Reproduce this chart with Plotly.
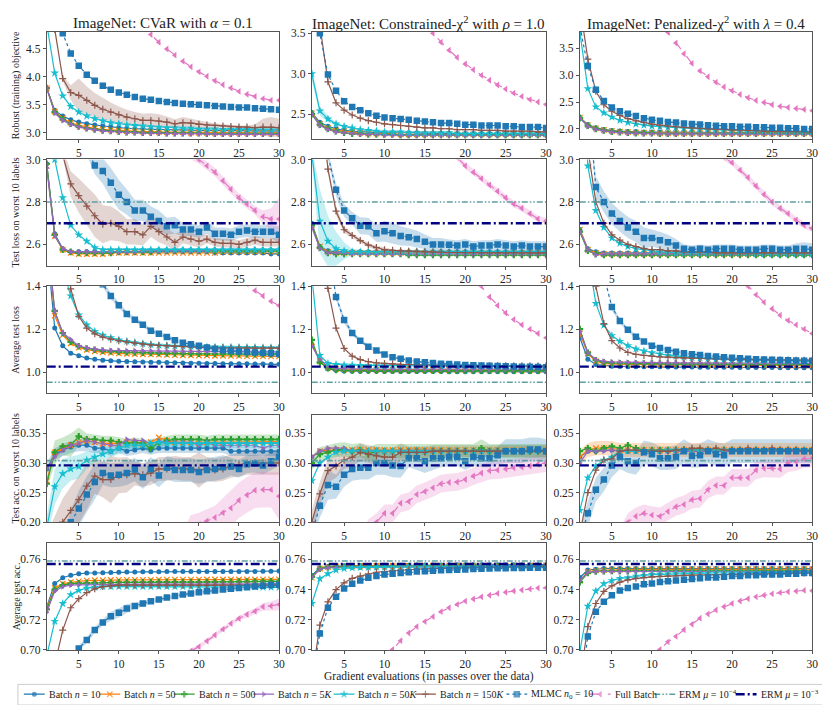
import plotly.graph_objects as go

x = list(range(1, 31))

# ---------------- Row 1: robust (training) objective ----------------
cvar_obj_b10 = [3.80, 3.40, 3.30, 3.23, 3.19, 3.16, 3.14, 3.12, 3.10, 3.09,
                3.08, 3.07, 3.07, 3.06, 3.06, 3.05, 3.05, 3.05, 3.04, 3.04,
                3.04, 3.04, 3.03, 3.03, 3.03, 3.03, 3.03, 3.03, 3.03, 3.03]
cvar_obj_b50 = [3.80, 3.38, 3.26, 3.18, 3.13, 3.10, 3.08, 3.06, 3.05, 3.04,
                3.03, 3.03, 3.02, 3.02, 3.01, 3.01, 3.01, 3.01, 3.00, 3.00,
                3.00, 3.00, 3.00, 3.00, 3.00, 3.00, 3.00, 3.00, 3.00, 3.00]
cvar_obj_b500 = [3.80, 3.37, 3.24, 3.16, 3.11, 3.08, 3.06, 3.04, 3.03, 3.02,
                 3.01, 3.01, 3.00, 3.00, 3.00, 2.99, 2.99, 2.99, 2.99, 2.99,
                 2.98, 2.98, 2.98, 2.98, 2.98, 2.98, 2.98, 2.98, 2.98, 2.98]
cvar_obj_b5k = [3.80, 3.35, 3.22, 3.15, 3.10, 3.07, 3.05, 3.03, 3.02, 3.01,
                3.00, 3.00, 2.99, 2.99, 2.99, 2.98, 2.98, 2.98, 2.98, 2.98,
                2.98, 2.97, 2.97, 2.97, 2.97, 2.97, 2.97, 2.97, 2.97, 2.97]
cvar_obj_b50k = [4.95, 4.07, 3.66, 3.47, 3.37, 3.30, 3.25, 3.21, 3.18, 3.16,
                 3.14, 3.13, 3.12, 3.11, 3.10, 3.09, 3.09, 3.08, 3.08, 3.07,
                 3.07, 3.07, 3.06, 3.06, 3.06, 3.06, 3.05, 3.05, 3.05, 3.05]
cvar_obj_b150k = [6.00, 4.85, 3.97, 3.72, 3.67, 3.58, 3.49, 3.42, 3.37, 3.32,
                  3.28, 3.25, 3.22, 3.22, 3.21, 3.19, 3.16, 3.18, 3.17, 3.15,
                  3.14, 3.13, 3.12, 3.11, 3.10, 3.10, 3.09, 3.10, 3.10, 3.09]
cvar_obj_mlmc = [6.50, 5.40, 4.78, 4.42, 4.20, 4.04, 3.93, 3.84, 3.77, 3.72,
                 3.68, 3.64, 3.61, 3.59, 3.57, 3.55, 3.53, 3.52, 3.51, 3.50,
                 3.49, 3.48, 3.47, 3.46, 3.45, 3.45, 3.44, 3.43, 3.42, 3.41]
cvar_obj_full = [9.80, 9.30, 8.80, 8.30, 7.80, 7.30, 6.85, 6.45, 6.05, 5.70,
                 5.40, 5.15, 4.93, 4.76, 4.62, 4.50, 4.39, 4.28, 4.18, 4.09,
                 4.01, 3.93, 3.86, 3.80, 3.74, 3.69, 3.65, 3.61, 3.58, 3.58]
cvar_obj_b150k_err = [0, 0, 0.05, 0.13, 0.30, 0.25, 0.22, 0.20, 0.17, 0.15,
                      0.13, 0.12, 0.12, 0.13, 0.12, 0.10, 0.08, 0.10, 0.08, 0.06,
                      0.05, 0.04, 0.03, 0.03, 0.03, 0.03, 0.06, 0.15, 0.18, 0.16]

chic_obj_b10 = [2.52, 2.40, 2.35, 2.32, 2.30, 2.29, 2.28, 2.28, 2.27, 2.27,
                2.27, 2.27, 2.27, 2.27, 2.26, 2.26, 2.26, 2.26, 2.26, 2.26,
                2.26, 2.26, 2.26, 2.26, 2.26, 2.26, 2.26, 2.26, 2.26, 2.26]
chic_obj_b50 = [2.51, 2.38, 2.33, 2.30, 2.29, 2.28, 2.27, 2.26, 2.26, 2.26,
                2.26, 2.25, 2.25, 2.25, 2.25, 2.25, 2.25, 2.25, 2.25, 2.25,
                2.25, 2.25, 2.25, 2.25, 2.25, 2.25, 2.25, 2.25, 2.25, 2.25]
chic_obj_b500 = [2.50, 2.37, 2.32, 2.29, 2.27, 2.26, 2.26, 2.25, 2.25, 2.25,
                 2.25, 2.24, 2.24, 2.24, 2.24, 2.24, 2.24, 2.24, 2.24, 2.24,
                 2.24, 2.24, 2.24, 2.24, 2.24, 2.24, 2.24, 2.24, 2.24, 2.24]
chic_obj_b5k = [2.50, 2.36, 2.31, 2.28, 2.27, 2.26, 2.25, 2.25, 2.25, 2.24,
                2.24, 2.24, 2.24, 2.24, 2.24, 2.24, 2.24, 2.24, 2.24, 2.24,
                2.24, 2.24, 2.24, 2.24, 2.24, 2.24, 2.24, 2.24, 2.24, 2.24]
chic_obj_b50k = [3.00, 2.54, 2.44, 2.38, 2.35, 2.33, 2.31, 2.30, 2.29, 2.28,
                 2.28, 2.28, 2.27, 2.27, 2.27, 2.27, 2.27, 2.27, 2.26, 2.26,
                 2.26, 2.26, 2.26, 2.26, 2.26, 2.26, 2.26, 2.26, 2.26, 2.26]
chic_obj_b150k = [4.50, 3.60, 2.90, 2.64, 2.55, 2.49, 2.45, 2.42, 2.40, 2.38,
                  2.37, 2.36, 2.35, 2.34, 2.33, 2.33, 2.32, 2.32, 2.31, 2.31,
                  2.31, 2.30, 2.30, 2.30, 2.29, 2.29, 2.29, 2.29, 2.28, 2.28]
chic_obj_mlmc = [4.20, 3.50, 2.99, 2.79, 2.66, 2.59, 2.55, 2.51, 2.48, 2.46,
                 2.45, 2.44, 2.43, 2.42, 2.41, 2.40, 2.39, 2.39, 2.38, 2.37,
                 2.37, 2.36, 2.36, 2.36, 2.35, 2.35, 2.34, 2.34, 2.34, 2.33]
chic_obj_full = [8.50, 8.00, 7.50, 7.00, 6.50, 6.10, 5.70, 5.35, 5.00, 4.70,
                 4.40, 4.15, 3.95, 3.77, 3.62, 3.50, 3.39, 3.29, 3.20, 3.12,
                 3.05, 2.98, 2.92, 2.86, 2.81, 2.76, 2.72, 2.68, 2.65, 2.62]
chic_obj_b50k_err = [0.08, 0.06, 0.04, 0.02, 0.01, 0.01, 0, 0, 0, 0,
                     0, 0, 0, 0, 0, 0, 0, 0, 0, 0,
                     0, 0, 0, 0, 0, 0, 0, 0, 0, 0]

chip_obj_b10 = [2.22, 2.08, 2.02, 1.99, 1.97, 1.96, 1.95, 1.95, 1.94, 1.94,
                1.94, 1.93, 1.93, 1.93, 1.93, 1.93, 1.93, 1.93, 1.93, 1.93,
                1.93, 1.93, 1.93, 1.93, 1.93, 1.93, 1.93, 1.93, 1.93, 1.93]
chip_obj_b50 = [2.21, 2.07, 2.01, 1.98, 1.96, 1.95, 1.94, 1.93, 1.93, 1.93,
                1.92, 1.92, 1.92, 1.92, 1.92, 1.92, 1.92, 1.92, 1.92, 1.92,
                1.92, 1.92, 1.92, 1.92, 1.92, 1.92, 1.92, 1.92, 1.92, 1.92]
chip_obj_b500 = [2.20, 2.06, 2.00, 1.97, 1.95, 1.94, 1.93, 1.92, 1.92, 1.92,
                 1.91, 1.91, 1.91, 1.91, 1.91, 1.91, 1.91, 1.91, 1.91, 1.91,
                 1.91, 1.91, 1.91, 1.91, 1.91, 1.91, 1.91, 1.91, 1.91, 1.91]
chip_obj_b5k = [2.20, 2.05, 1.99, 1.96, 1.94, 1.93, 1.92, 1.92, 1.91, 1.91,
                1.91, 1.90, 1.90, 1.90, 1.90, 1.90, 1.90, 1.90, 1.90, 1.90,
                1.90, 1.90, 1.90, 1.90, 1.90, 1.90, 1.90, 1.90, 1.90, 1.90]
chip_obj_b50k = [3.80, 2.75, 2.41, 2.30, 2.22, 2.16, 2.12, 2.09, 2.07, 2.05,
                 2.04, 2.03, 2.02, 2.01, 2.00, 1.99, 1.99, 1.98, 1.98, 1.97,
                 1.97, 1.96, 1.96, 1.96, 1.95, 1.95, 1.95, 1.94, 1.94, 1.94]
chip_obj_b150k = [4.30, 3.30, 2.70, 2.45, 2.33, 2.25, 2.19, 2.15, 2.12, 2.09,
                  2.07, 2.05, 2.04, 2.03, 2.02, 2.01, 2.00, 1.99, 1.99, 1.98,
                  1.98, 1.97, 1.97, 1.96, 1.96, 1.96, 1.95, 1.95, 1.95, 1.94]
chip_obj_mlmc = [3.90, 3.17, 2.73, 2.52, 2.40, 2.33, 2.28, 2.24, 2.20, 2.17,
                 2.15, 2.13, 2.12, 2.10, 2.09, 2.08, 2.07, 2.06, 2.05, 2.05,
                 2.04, 2.04, 2.03, 2.03, 2.02, 2.02, 2.01, 2.01, 2.00, 2.00]
chip_obj_full = [9.00, 8.40, 7.80, 7.20, 6.60, 6.10, 5.60, 5.10, 4.70, 4.35,
                 4.05, 3.80, 3.60, 3.40, 3.22, 3.08, 2.97, 2.87, 2.78, 2.71,
                 2.64, 2.58, 2.53, 2.49, 2.45, 2.42, 2.40, 2.38, 2.36, 2.34]

# ---------------- Row 2: test loss on worst 10 labels ----------------
cvar_worst_b10 = [2.98, 2.65, 2.58, 2.565, 2.565, 2.565, 2.565, 2.565, 2.565, 2.565,
                  2.565, 2.565, 2.565, 2.565, 2.565, 2.565, 2.565, 2.565, 2.565, 2.565,
                  2.565, 2.56, 2.56, 2.56, 2.56, 2.56, 2.56, 2.56, 2.555, 2.555]
cvar_worst_b50 = [2.97, 2.64, 2.575, 2.56, 2.555, 2.555, 2.555, 2.555, 2.56, 2.56,
                  2.56, 2.56, 2.56, 2.56, 2.56, 2.56, 2.56, 2.56, 2.56, 2.56,
                  2.56, 2.56, 2.565, 2.565, 2.565, 2.565, 2.565, 2.565, 2.565, 2.565]
cvar_worst_b500 = [2.98, 2.645, 2.575, 2.565, 2.56, 2.56, 2.56, 2.56, 2.56, 2.565,
                   2.565, 2.565, 2.565, 2.565, 2.57, 2.57, 2.57, 2.57, 2.57, 2.57,
                   2.57, 2.57, 2.57, 2.57, 2.57, 2.57, 2.57, 2.57, 2.57, 2.57]
cvar_worst_b5k = [2.96, 2.64, 2.58, 2.565, 2.565, 2.565, 2.565, 2.565, 2.565, 2.565,
                  2.565, 2.565, 2.57, 2.57, 2.57, 2.57, 2.57, 2.57, 2.57, 2.57,
                  2.57, 2.575, 2.575, 2.575, 2.575, 2.575, 2.575, 2.575, 2.575, 2.575]
cvar_worst_b50k = [3.50, 3.00, 2.82, 2.69, 2.645, 2.615, 2.585, 2.575, 2.575, 2.575,
                   2.575, 2.575, 2.575, 2.575, 2.575, 2.575, 2.575, 2.575, 2.575, 2.575,
                   2.575, 2.575, 2.575, 2.575, 2.575, 2.575, 2.575, 2.575, 2.575, 2.575]
cvar_worst_b150k = [3.60, 3.20, 3.02, 2.885, 2.83, 2.78, 2.735, 2.695, 2.70, 2.685,
                    2.66, 2.66, 2.645, 2.685, 2.66, 2.635, 2.61, 2.635, 2.625, 2.615,
                    2.625, 2.61, 2.605, 2.605, 2.60, 2.61, 2.62, 2.61, 2.61, 2.61]
cvar_worst_mlmc = [3.90, 3.70, 3.50, 3.30, 3.15, 3.05, 2.972, 2.946, 2.89, 2.834,
                   2.80, 2.76, 2.76, 2.73, 2.71, 2.685, 2.69, 2.67, 2.67, 2.66,
                   2.68, 2.65, 2.65, 2.645, 2.66, 2.665, 2.66, 2.66, 2.66, 2.645]
cvar_worst_full = [4.50, 4.35, 4.20, 4.05, 3.92, 3.80, 3.70, 3.60, 3.52, 3.44,
                   3.37, 3.30, 3.24, 3.19, 3.14, 3.10, 3.07, 3.04, 3.02, 3.00,
                   2.97, 2.94, 2.90, 2.86, 2.82, 2.79, 2.76, 2.73, 2.72, 2.72]
cvar_worst_mlmc_err = [0, 0, 0, 0, 0, 0.03, 0.04, 0.06, 0.07, 0.07,
                       0.06, 0.05, 0.05, 0.05, 0.05, 0.04, 0.04, 0.03, 0.03, 0.03,
                       0.03, 0.03, 0.03, 0.03, 0.03, 0.03, 0.03, 0.03, 0.03, 0.04]
cvar_worst_b150k_err = [0, 0, 0.03, 0.06, 0.08, 0.09, 0.10, 0.09, 0.08, 0.07,
                        0.06, 0.06, 0.05, 0.05, 0.05, 0.04, 0.04, 0.03, 0.03, 0.03,
                        0.02, 0.02, 0.02, 0.02, 0.02, 0.02, 0.02, 0.02, 0.02, 0.02]
cvar_worst_full_err = [0, 0, 0, 0, 0, 0, 0, 0, 0, 0,
                       0, 0, 0, 0, 0, 0, 0, 0, 0.02, 0.02,
                       0.02, 0.02, 0.02, 0.02, 0.02, 0.02, 0.02, 0.03, 0.05, 0.10]

chic_worst_b10 = [2.70, 2.59, 2.57, 2.565, 2.565, 2.565, 2.565, 2.565, 2.565, 2.565,
                  2.565, 2.565, 2.565, 2.565, 2.565, 2.565, 2.565, 2.565, 2.565, 2.565,
                  2.565, 2.565, 2.565, 2.565, 2.565, 2.565, 2.565, 2.565, 2.565, 2.565]
chic_worst_b50 = [2.69, 2.59, 2.565, 2.56, 2.56, 2.56, 2.56, 2.56, 2.56, 2.56,
                  2.56, 2.56, 2.56, 2.56, 2.56, 2.56, 2.56, 2.56, 2.56, 2.56,
                  2.56, 2.56, 2.56, 2.56, 2.56, 2.56, 2.56, 2.56, 2.56, 2.56]
chic_worst_b500 = [2.69, 2.585, 2.56, 2.555, 2.555, 2.555, 2.555, 2.555, 2.555, 2.555,
                   2.555, 2.555, 2.55, 2.55, 2.55, 2.55, 2.55, 2.55, 2.55, 2.55,
                   2.55, 2.55, 2.55, 2.55, 2.55, 2.55, 2.55, 2.55, 2.55, 2.55]
chic_worst_b5k = [2.68, 2.58, 2.56, 2.56, 2.56, 2.555, 2.555, 2.555, 2.555, 2.555,
                  2.555, 2.555, 2.555, 2.555, 2.555, 2.555, 2.555, 2.555, 2.555, 2.555,
                  2.555, 2.555, 2.555, 2.555, 2.555, 2.555, 2.555, 2.555, 2.555, 2.555]
chic_worst_b50k = [3.03, 2.71, 2.615, 2.58, 2.57, 2.565, 2.565, 2.565, 2.565, 2.565,
                   2.565, 2.565, 2.565, 2.565, 2.565, 2.565, 2.565, 2.565, 2.565, 2.565,
                   2.565, 2.565, 2.565, 2.565, 2.565, 2.565, 2.565, 2.565, 2.565, 2.565]
chic_worst_b150k = [3.70, 3.30, 2.955, 2.757, 2.669, 2.642, 2.618, 2.597, 2.585, 2.575,
                    2.572, 2.57, 2.568, 2.566, 2.565, 2.564, 2.563, 2.562, 2.562, 2.561,
                    2.561, 2.56, 2.56, 2.56, 2.56, 2.56, 2.56, 2.56, 2.56, 2.56]
chic_worst_mlmc = [3.60, 3.30, 3.02, 2.857, 2.76, 2.723, 2.688, 2.685, 2.652, 2.662,
                   2.652, 2.64, 2.634, 2.626, 2.612, 2.60, 2.60, 2.598, 2.595, 2.60,
                   2.59, 2.595, 2.595, 2.60, 2.595, 2.59, 2.595, 2.59, 2.59, 2.59]
chic_worst_full = [4.60, 4.45, 4.30, 4.15, 4.00, 3.88, 3.76, 3.65, 3.55, 3.46,
                   3.38, 3.31, 3.25, 3.19, 3.14, 3.10, 3.06, 3.03, 3.01, 2.97,
                   2.94, 2.91, 2.88, 2.85, 2.82, 2.79, 2.77, 2.745, 2.72, 2.71]
chic_worst_mlmc_err = [0, 0, 0.02, 0.03, 0.03, 0.03, 0.04, 0.04, 0.04, 0.05,
                       0.05, 0.045, 0.04, 0.04, 0.035, 0.03, 0.03, 0.025, 0.025, 0.025,
                       0.025, 0.025, 0.025, 0.025, 0.025, 0.025, 0.025, 0.025, 0.025, 0.025]
chic_worst_b150k_err = [0, 0, 0.02, 0.02, 0.015, 0.01, 0.01, 0.01, 0.01, 0.01,
                        0.005, 0.005, 0.005, 0.005, 0.005, 0.005, 0.005, 0.005, 0.005, 0.005,
                        0.005, 0.005, 0.005, 0.005, 0.005, 0.005, 0.005, 0.005, 0.005, 0.005]
chic_worst_b50k_err = [0.03, 0.15, 0.12, 0.08, 0.04, 0.015, 0.01, 0.005, 0.005, 0.005,
                       0.005, 0.005, 0.005, 0.005, 0.005, 0.005, 0.005, 0.005, 0.005, 0.005,
                       0.005, 0.005, 0.005, 0.005, 0.005, 0.005, 0.005, 0.005, 0.005, 0.005]
chic_worst_full_err = [0, 0, 0, 0, 0, 0, 0, 0, 0, 0,
                       0, 0, 0, 0, 0, 0, 0, 0, 0.015, 0.015,
                       0.015, 0.015, 0.015, 0.015, 0.015, 0.015, 0.015, 0.015, 0.015, 0.015]

chip_worst_b10 = [2.67, 2.58, 2.565, 2.56, 2.56, 2.56, 2.56, 2.56, 2.56, 2.56,
                  2.56, 2.56, 2.56, 2.56, 2.56, 2.56, 2.56, 2.56, 2.56, 2.56,
                  2.56, 2.56, 2.56, 2.56, 2.56, 2.56, 2.56, 2.56, 2.56, 2.56]
chip_worst_b50 = [2.67, 2.575, 2.56, 2.555, 2.555, 2.555, 2.555, 2.555, 2.555, 2.555,
                  2.555, 2.555, 2.555, 2.555, 2.555, 2.555, 2.555, 2.555, 2.555, 2.555,
                  2.555, 2.555, 2.555, 2.555, 2.555, 2.555, 2.555, 2.555, 2.555, 2.555]
chip_worst_b500 = [2.66, 2.57, 2.555, 2.55, 2.55, 2.55, 2.55, 2.55, 2.55, 2.55,
                   2.55, 2.55, 2.55, 2.55, 2.55, 2.55, 2.55, 2.55, 2.55, 2.55,
                   2.55, 2.55, 2.55, 2.55, 2.55, 2.55, 2.55, 2.55, 2.55, 2.55]
chip_worst_b5k = [2.66, 2.575, 2.55, 2.555, 2.555, 2.555, 2.555, 2.555, 2.555, 2.555,
                  2.555, 2.555, 2.555, 2.555, 2.555, 2.555, 2.555, 2.555, 2.555, 2.555,
                  2.555, 2.555, 2.555, 2.555, 2.555, 2.555, 2.555, 2.555, 2.555, 2.555]
chip_worst_b50k = [3.60, 2.97, 2.76, 2.68, 2.63, 2.605, 2.59, 2.58, 2.575, 2.57,
                   2.565, 2.565, 2.56, 2.56, 2.56, 2.56, 2.56, 2.56, 2.56, 2.56,
                   2.56, 2.56, 2.555, 2.555, 2.555, 2.555, 2.555, 2.555, 2.555, 2.555]
chip_worst_b150k = [3.80, 3.05, 2.80, 2.70, 2.645, 2.62, 2.60, 2.59, 2.58, 2.575,
                    2.575, 2.57, 2.57, 2.565, 2.565, 2.565, 2.565, 2.56, 2.56, 2.56,
                    2.56, 2.56, 2.56, 2.56, 2.56, 2.56, 2.56, 2.56, 2.56, 2.56]
chip_worst_mlmc = [3.70, 3.30, 2.87, 2.80, 2.745, 2.71, 2.68, 2.66, 2.63, 2.63,
                   2.62, 2.61, 2.595, 2.58, 2.575, 2.58, 2.575, 2.58, 2.58, 2.58,
                   2.575, 2.575, 2.575, 2.58, 2.58, 2.575, 2.575, 2.58, 2.58, 2.575]
chip_worst_full = [4.70, 4.55, 4.40, 4.25, 4.10, 3.97, 3.85, 3.73, 3.62, 3.52,
                   3.43, 3.35, 3.28, 3.21, 3.15, 3.10, 3.06, 3.03, 3.01, 2.985,
                   2.95, 2.915, 2.875, 2.835, 2.80, 2.77, 2.745, 2.715, 2.69, 2.675]
chip_worst_mlmc_err = [0, 0, 0.05, 0.05, 0.05, 0.05, 0.05, 0.05, 0.05, 0.04,
                       0.04, 0.035, 0.03, 0.02, 0.02, 0.02, 0.02, 0.02, 0.02, 0.02,
                       0.02, 0.02, 0.02, 0.02, 0.02, 0.02, 0.02, 0.025, 0.03, 0.03]
chip_worst_full_err = [0, 0, 0, 0, 0, 0, 0, 0, 0, 0,
                       0, 0, 0, 0, 0, 0, 0, 0, 0.015, 0.015,
                       0.015, 0.015, 0.015, 0.015, 0.015, 0.015, 0.015, 0.015, 0.015, 0.015]

# ---------------- Row 3: average test loss ----------------
cvar_loss_b10 = [1.60, 1.205, 1.122, 1.088, 1.076, 1.065, 1.059, 1.055, 1.052, 1.050,
                 1.049, 1.048, 1.047, 1.046, 1.045, 1.044, 1.043, 1.042, 1.041, 1.041,
                 1.040, 1.040, 1.039, 1.039, 1.038, 1.038, 1.037, 1.037, 1.036, 1.036]
cvar_loss_b50 = [1.65, 1.263, 1.172, 1.134, 1.114, 1.104, 1.097, 1.092, 1.089, 1.087,
                 1.085, 1.084, 1.083, 1.082, 1.081, 1.080, 1.079, 1.078, 1.078, 1.077,
                 1.077, 1.076, 1.076, 1.075, 1.075, 1.074, 1.074, 1.074, 1.073, 1.073]
cvar_loss_b500 = [1.66, 1.285, 1.182, 1.140, 1.120, 1.110, 1.104, 1.099, 1.096, 1.094,
                  1.092, 1.091, 1.090, 1.089, 1.088, 1.087, 1.087, 1.086, 1.086, 1.085,
                  1.085, 1.084, 1.084, 1.084, 1.083, 1.083, 1.083, 1.083, 1.083, 1.083]
cvar_loss_b5k = [1.66, 1.282, 1.183, 1.152, 1.122, 1.112, 1.106, 1.103, 1.101, 1.100,
                 1.099, 1.099, 1.098, 1.098, 1.097, 1.097, 1.097, 1.096, 1.096, 1.096,
                 1.096, 1.095, 1.095, 1.095, 1.095, 1.095, 1.095, 1.094, 1.094, 1.094]
cvar_loss_b50k = [2.00, 1.70, 1.48, 1.355, 1.266, 1.220, 1.190, 1.172, 1.160, 1.150,
                  1.143, 1.137, 1.132, 1.128, 1.125, 1.123, 1.121, 1.120, 1.119, 1.118,
                  1.117, 1.117, 1.116, 1.116, 1.115, 1.115, 1.115, 1.114, 1.114, 1.114]
cvar_loss_b150k = [2.20, 1.90, 1.60, 1.388, 1.260, 1.205, 1.178, 1.163, 1.153, 1.146,
                   1.140, 1.135, 1.130, 1.127, 1.124, 1.122, 1.120, 1.118, 1.117, 1.115,
                   1.114, 1.113, 1.113, 1.112, 1.112, 1.111, 1.111, 1.111, 1.111, 1.111]
cvar_loss_mlmc = [3.50, 2.90, 2.40, 2.05, 1.80, 1.62, 1.50, 1.41, 1.355, 1.312,
                  1.271, 1.244, 1.221, 1.193, 1.178, 1.163, 1.148, 1.137, 1.129, 1.122,
                  1.114, 1.107, 1.103, 1.099, 1.096, 1.093, 1.091, 1.090, 1.087, 1.084]
cvar_loss_full = [5.50, 5.20, 4.90, 4.60, 4.30, 4.05, 3.80, 3.55, 3.33, 3.12,
                  2.93, 2.75, 2.58, 2.43, 2.29, 2.16, 2.04, 1.93, 1.83, 1.74,
                  1.66, 1.59, 1.53, 1.48, 1.44, 1.41, 1.38, 1.355, 1.33, 1.31]
cvar_loss_mlmc_err = [0, 0, 0, 0, 0, 0, 0, 0.015, 0.015, 0.015,
                      0.012, 0.012, 0.012, 0.01, 0.01, 0.01, 0.01, 0.008, 0.008, 0.008,
                      0.008, 0.008, 0.008, 0.008, 0.008, 0.008, 0.008, 0.008, 0.008, 0.008]

chic_loss_b10 = [1.13, 1.05, 1.015, 1.008, 1.005, 1.004, 1.003, 1.003, 1.003, 1.002,
                 1.002, 1.002, 1.002, 1.002, 1.002, 1.002, 1.002, 1.001, 1.001, 1.001,
                 1.001, 1.001, 1.001, 1.001, 1.001, 1.001, 1.001, 1.001, 1.001, 1.001]
chic_loss_b50 = [1.14, 1.05, 1.02, 1.015, 1.013, 1.012, 1.012, 1.012, 1.011, 1.011,
                 1.011, 1.011, 1.011, 1.011, 1.011, 1.010, 1.010, 1.010, 1.010, 1.010,
                 1.010, 1.010, 1.010, 1.010, 1.010, 1.010, 1.010, 1.010, 1.010, 1.010]
chic_loss_b500 = [1.15, 1.045, 1.018, 1.010, 1.008, 1.007, 1.007, 1.007, 1.006, 1.006,
                  1.006, 1.006, 1.006, 1.006, 1.006, 1.006, 1.006, 1.006, 1.006, 1.006,
                  1.006, 1.006, 1.006, 1.006, 1.006, 1.006, 1.006, 1.006, 1.006, 1.006]
chic_loss_b5k = [1.12, 1.06, 1.025, 1.018, 1.016, 1.015, 1.015, 1.015, 1.014, 1.014,
                 1.014, 1.014, 1.014, 1.014, 1.014, 1.014, 1.014, 1.014, 1.014, 1.014,
                 1.014, 1.014, 1.014, 1.014, 1.014, 1.014, 1.014, 1.014, 1.014, 1.014]
chic_loss_b50k = [1.45, 1.077, 1.040, 1.035, 1.033, 1.032, 1.031, 1.031, 1.030, 1.030,
                  1.030, 1.030, 1.029, 1.029, 1.029, 1.029, 1.028, 1.028, 1.028, 1.028,
                  1.027, 1.027, 1.027, 1.027, 1.026, 1.026, 1.026, 1.026, 1.025, 1.025]
chic_loss_b150k = [2.00, 1.50, 1.39, 1.205, 1.110, 1.074, 1.058, 1.048, 1.043, 1.040,
                   1.038, 1.036, 1.035, 1.034, 1.033, 1.032, 1.031, 1.031, 1.030, 1.030,
                   1.030, 1.029, 1.029, 1.029, 1.029, 1.028, 1.028, 1.028, 1.028, 1.028]
chic_loss_mlmc = [2.60, 2.00, 1.60, 1.35, 1.243, 1.182, 1.146, 1.118, 1.100, 1.082,
                  1.069, 1.062, 1.054, 1.049, 1.045, 1.042, 1.039, 1.037, 1.035, 1.033,
                  1.031, 1.030, 1.029, 1.028, 1.027, 1.026, 1.025, 1.024, 1.023, 1.022]
chic_loss_full = [5.00, 4.70, 4.40, 4.10, 3.80, 3.55, 3.30, 3.05, 2.85, 2.65,
                  2.47, 2.30, 2.15, 2.02, 1.90, 1.80, 1.70, 1.62, 1.54, 1.48,
                  1.44, 1.40, 1.35, 1.31, 1.275, 1.245, 1.22, 1.20, 1.18, 1.16]
chic_loss_mlmc_err = [0, 0, 0, 0.015, 0.015, 0.012, 0.01, 0.01, 0.008, 0.008,
                      0.006, 0.006, 0.006, 0.005, 0.005, 0.005, 0.005, 0.005, 0.005, 0.005,
                      0.005, 0.005, 0.005, 0.005, 0.005, 0.005, 0.005, 0.005, 0.005, 0.005]

chip_loss_b10 = [1.16, 1.06, 1.035, 1.030, 1.027, 1.026, 1.025, 1.025, 1.024, 1.024,
                 1.024, 1.023, 1.023, 1.023, 1.023, 1.022, 1.022, 1.022, 1.022, 1.022,
                 1.021, 1.021, 1.021, 1.021, 1.021, 1.020, 1.020, 1.020, 1.020, 1.020]
chip_loss_b50 = [1.18, 1.085, 1.050, 1.040, 1.037, 1.036, 1.035, 1.035, 1.034, 1.034,
                 1.034, 1.033, 1.033, 1.033, 1.033, 1.032, 1.032, 1.032, 1.032, 1.032,
                 1.031, 1.031, 1.031, 1.031, 1.031, 1.030, 1.030, 1.030, 1.030, 1.030]
chip_loss_b500 = [1.20, 1.090, 1.055, 1.045, 1.042, 1.041, 1.040, 1.040, 1.039, 1.039,
                  1.039, 1.038, 1.038, 1.038, 1.038, 1.037, 1.037, 1.037, 1.037, 1.037,
                  1.036, 1.036, 1.036, 1.036, 1.036, 1.035, 1.035, 1.035, 1.035, 1.035]
chip_loss_b5k = [1.19, 1.090, 1.058, 1.050, 1.047, 1.046, 1.045, 1.045, 1.044, 1.044,
                 1.044, 1.043, 1.043, 1.043, 1.043, 1.042, 1.042, 1.042, 1.042, 1.042,
                 1.041, 1.041, 1.041, 1.041, 1.041, 1.040, 1.040, 1.040, 1.040, 1.040]
chip_loss_b50k = [1.60, 1.55, 1.32, 1.218, 1.170, 1.143, 1.123, 1.108, 1.098, 1.090,
                  1.084, 1.078, 1.074, 1.070, 1.067, 1.065, 1.063, 1.061, 1.059, 1.058,
                  1.057, 1.056, 1.055, 1.054, 1.053, 1.052, 1.052, 1.051, 1.051, 1.050]
chip_loss_b150k = [2.00, 1.70, 1.40, 1.226, 1.146, 1.112, 1.092, 1.082, 1.077, 1.074,
                   1.071, 1.069, 1.067, 1.065, 1.064, 1.063, 1.062, 1.061, 1.060, 1.059,
                   1.058, 1.058, 1.057, 1.057, 1.056, 1.056, 1.056, 1.055, 1.055, 1.055]
chip_loss_mlmc = [2.70, 2.10, 1.70, 1.45, 1.303, 1.238, 1.197, 1.165, 1.142, 1.123,
                  1.112, 1.103, 1.095, 1.088, 1.083, 1.079, 1.075, 1.072, 1.069, 1.066,
                  1.064, 1.062, 1.060, 1.058, 1.057, 1.056, 1.055, 1.054, 1.053, 1.052]
chip_loss_full = [5.00, 4.70, 4.40, 4.10, 3.80, 3.55, 3.30, 3.05, 2.85, 2.65,
                  2.47, 2.30, 2.15, 2.02, 1.90, 1.80, 1.70, 1.62, 1.54, 1.48,
                  1.44, 1.40, 1.36, 1.325, 1.295, 1.265, 1.24, 1.22, 1.20, 1.18]
chip_loss_mlmc_err = [0, 0, 0, 0, 0.015, 0.012, 0.01, 0.01, 0.008, 0.008,
                      0.006, 0.006, 0.006, 0.005, 0.005, 0.005, 0.005, 0.005, 0.005, 0.005,
                      0.005, 0.005, 0.005, 0.005, 0.005, 0.005, 0.005, 0.005, 0.005, 0.005]

# ---------------- Row 4: test accuracy on worst 10 labels ----------------
cvar_wacc_b10 = [0.29, 0.315, 0.322, 0.327, 0.33, 0.33, 0.325, 0.325, 0.32, 0.325,
                 0.32, 0.322, 0.325, 0.322, 0.325, 0.325, 0.325, 0.325, 0.325, 0.325,
                 0.325, 0.325, 0.325, 0.32, 0.32, 0.32, 0.32, 0.32, 0.32, 0.32]
cvar_wacc_b50 = [0.27, 0.318, 0.325, 0.33, 0.335, 0.338, 0.335, 0.333, 0.333, 0.333,
                 0.335, 0.335, 0.333, 0.335, 0.343, 0.338, 0.335, 0.335, 0.335, 0.333,
                 0.335, 0.335, 0.335, 0.336, 0.336, 0.336, 0.336, 0.336, 0.336, 0.336]
cvar_wacc_b500 = [0.265, 0.318, 0.328, 0.33, 0.345, 0.34, 0.34, 0.338, 0.338, 0.335,
                  0.333, 0.335, 0.333, 0.325, 0.335, 0.338, 0.34, 0.34, 0.34, 0.34,
                  0.338, 0.34, 0.34, 0.34, 0.34, 0.34, 0.34, 0.34, 0.34, 0.34]
cvar_wacc_b5k = [0.29, 0.31, 0.322, 0.33, 0.333, 0.338, 0.335, 0.333, 0.33, 0.33,
                 0.34, 0.338, 0.338, 0.333, 0.337, 0.335, 0.335, 0.335, 0.335, 0.33,
                 0.335, 0.33, 0.33, 0.33, 0.33, 0.33, 0.33, 0.325, 0.33, 0.33]
cvar_wacc_b50k = [0.19, 0.26, 0.282, 0.29, 0.294, 0.305, 0.31, 0.315, 0.32, 0.325,
                  0.33, 0.33, 0.33, 0.333, 0.335, 0.333, 0.333, 0.333, 0.333, 0.333,
                  0.333, 0.333, 0.333, 0.333, 0.333, 0.333, 0.333, 0.333, 0.333, 0.333]
cvar_wacc_b150k = [0.15, 0.18, 0.20, 0.22, 0.238, 0.261, 0.278, 0.272, 0.272, 0.279,
                   0.28, 0.282, 0.28, 0.283, 0.29, 0.29, 0.292, 0.29, 0.29, 0.288,
                   0.29, 0.288, 0.29, 0.295, 0.297, 0.30, 0.30, 0.30, 0.30, 0.30]
cvar_wacc_mlmc = [0.12, 0.15, 0.175, 0.20, 0.223, 0.247, 0.268, 0.283, 0.279, 0.28,
                  0.283, 0.289, 0.276, 0.29, 0.279, 0.292, 0.288, 0.288, 0.288, 0.285,
                  0.288, 0.29, 0.293, 0.294, 0.29, 0.298, 0.299, 0.296, 0.303, 0.31]
cvar_wacc_full = [0.05, 0.06, 0.07, 0.08, 0.09, 0.10, 0.11, 0.12, 0.13, 0.14,
                  0.15, 0.155, 0.16, 0.165, 0.17, 0.175, 0.18, 0.185, 0.192, 0.196,
                  0.202, 0.208, 0.216, 0.224, 0.237, 0.246, 0.254, 0.255, 0.255, 0.244]
cvar_wacc_mlmc_err = [0, 0, 0, 0.02, 0.03, 0.03, 0.03, 0.02, 0.02, 0.02,
                      0.02, 0.02, 0.02, 0.02, 0.02, 0.02, 0.02, 0.02, 0.02, 0.02,
                      0.02, 0.02, 0.02, 0.015, 0.015, 0.015, 0.015, 0.015, 0.015, 0.015]
cvar_wacc_b150k_err = [0.03, 0.03, 0.04, 0.04, 0.04, 0.04, 0.03, 0.03, 0.04, 0.03,
                       0.03, 0.02, 0.02, 0.02, 0.02, 0.02, 0.02, 0.02, 0.02, 0.03,
                       0.02, 0.02, 0.02, 0.02, 0.02, 0.02, 0.02, 0.02, 0.02, 0.02]
cvar_wacc_full_err = [0, 0, 0, 0, 0, 0, 0, 0, 0, 0,
                      0, 0, 0, 0, 0, 0, 0, 0, 0.02, 0.02,
                      0.02, 0.02, 0.025, 0.03, 0.03, 0.03, 0.03, 0.03, 0.03, 0.04]
cvar_wacc_b50k_err = [0.02, 0.03, 0.025, 0.02, 0.02, 0.015, 0.01, 0.01, 0.01, 0.01,
                      0.01, 0.008, 0.008, 0.008, 0.008, 0.008, 0.008, 0.008, 0.008, 0.008,
                      0.008, 0.008, 0.008, 0.008, 0.008, 0.008, 0.008, 0.008, 0.008, 0.008]
cvar_wacc_b500_err = [0.01, 0.02, 0.015, 0.02, 0.015, 0.01, 0.008, 0.008, 0.008, 0.008,
                      0.008, 0.008, 0.008, 0.01, 0.008, 0.008, 0.008, 0.008, 0.008, 0.008,
                      0.008, 0.008, 0.008, 0.008, 0.008, 0.008, 0.008, 0.008, 0.008, 0.008]
cvar_wacc_b10_err = [0.01, 0.01, 0.01, 0.01, 0.01, 0.01, 0.008, 0.008, 0.008, 0.008,
                     0.008, 0.008, 0.008, 0.008, 0.008, 0.008, 0.008, 0.008, 0.008, 0.008,
                     0.008, 0.008, 0.008, 0.008, 0.008, 0.008, 0.008, 0.008, 0.008, 0.008]

chic_wacc_b10 = [0.31, 0.32, 0.32, 0.322, 0.322, 0.32, 0.32, 0.32, 0.32, 0.32,
                 0.32, 0.32, 0.32, 0.32, 0.32, 0.32, 0.32, 0.32, 0.32, 0.32,
                 0.32, 0.32, 0.32, 0.32, 0.32, 0.32, 0.32, 0.32, 0.32, 0.32]
chic_wacc_b50 = [0.31, 0.32, 0.322, 0.322, 0.322, 0.322, 0.322, 0.322, 0.322, 0.322,
                 0.322, 0.322, 0.322, 0.322, 0.322, 0.322, 0.322, 0.322, 0.322, 0.322,
                 0.322, 0.322, 0.322, 0.322, 0.322, 0.322, 0.322, 0.322, 0.322, 0.322]
chic_wacc_b500 = [0.30, 0.315, 0.318, 0.322, 0.323, 0.32, 0.322, 0.315, 0.32, 0.32,
                  0.32, 0.32, 0.32, 0.32, 0.32, 0.32, 0.32, 0.32, 0.32, 0.32,
                  0.32, 0.325, 0.32, 0.32, 0.32, 0.32, 0.32, 0.32, 0.32, 0.32]
chic_wacc_b5k = [0.31, 0.32, 0.325, 0.325, 0.325, 0.32, 0.32, 0.32, 0.32, 0.32,
                 0.32, 0.32, 0.32, 0.32, 0.32, 0.32, 0.32, 0.32, 0.32, 0.32,
                 0.32, 0.32, 0.32, 0.32, 0.32, 0.32, 0.32, 0.32, 0.32, 0.32]
chic_wacc_b50k = [0.27, 0.30, 0.31, 0.318, 0.32, 0.32, 0.32, 0.32, 0.32, 0.32,
                  0.32, 0.32, 0.32, 0.32, 0.32, 0.32, 0.32, 0.32, 0.32, 0.32,
                  0.32, 0.32, 0.32, 0.32, 0.32, 0.32, 0.32, 0.32, 0.32, 0.32]
chic_wacc_b150k = [0.20, 0.248, 0.287, 0.295, 0.305, 0.31, 0.318, 0.315, 0.312, 0.31,
                   0.31, 0.318, 0.318, 0.318, 0.318, 0.32, 0.32, 0.32, 0.32, 0.32,
                   0.32, 0.32, 0.32, 0.32, 0.32, 0.32, 0.32, 0.32, 0.32, 0.32]
chic_wacc_mlmc = [0.18, 0.228, 0.263, 0.26, 0.28, 0.29, 0.292, 0.292, 0.30, 0.30,
                  0.296, 0.295, 0.308, 0.308, 0.303, 0.308, 0.308, 0.31, 0.31, 0.303,
                  0.31, 0.308, 0.308, 0.313, 0.32, 0.32, 0.32, 0.323, 0.323, 0.32]
chic_wacc_full = [0.10, 0.11, 0.12, 0.13, 0.15, 0.16, 0.175, 0.19, 0.20, 0.215,
                  0.215, 0.232, 0.235, 0.247, 0.252, 0.258, 0.265, 0.267, 0.268, 0.272,
                  0.278, 0.283, 0.287, 0.288, 0.29, 0.292, 0.293, 0.295, 0.298, 0.30]
chic_wacc_mlmc_err = [0.02, 0.02, 0.025, 0.02, 0.02, 0.02, 0.02, 0.02, 0.02, 0.02,
                      0.02, 0.02, 0.015, 0.02, 0.02, 0.02, 0.015, 0.015, 0.015, 0.015,
                      0.015, 0.015, 0.015, 0.015, 0.02, 0.02, 0.02, 0.02, 0.02, 0.02]
chic_wacc_b150k_err = [0.02, 0.02, 0.02, 0.02, 0.015, 0.015, 0.015, 0.015, 0.015, 0.015,
                       0.015, 0.015, 0.01, 0.01, 0.01, 0.01, 0.01, 0.01, 0.01, 0.01,
                       0.01, 0.01, 0.01, 0.01, 0.01, 0.01, 0.01, 0.01, 0.01, 0.01]
chic_wacc_full_err = [0, 0, 0, 0, 0, 0, 0, 0.015, 0.015, 0.015,
                      0.015, 0.015, 0.015, 0.015, 0.015, 0.015, 0.015, 0.015, 0.015, 0.015,
                      0.015, 0.015, 0.015, 0.015, 0.015, 0.015, 0.015, 0.015, 0.015, 0.015]
chic_wacc_b500_err = [0.012, 0.012, 0.012, 0.012, 0.012, 0.012, 0.012, 0.012, 0.012, 0.012,
                      0.012, 0.012, 0.012, 0.012, 0.012, 0.012, 0.012, 0.012, 0.012, 0.012,
                      0.012, 0.015, 0.012, 0.012, 0.012, 0.012, 0.012, 0.012, 0.012, 0.012]

chip_wacc_b10 = [0.31, 0.32, 0.32, 0.322, 0.322, 0.32, 0.32, 0.32, 0.32, 0.32,
                 0.32, 0.32, 0.32, 0.32, 0.32, 0.32, 0.32, 0.32, 0.32, 0.32,
                 0.32, 0.32, 0.32, 0.32, 0.32, 0.32, 0.32, 0.32, 0.32, 0.32]
chip_wacc_b50 = [0.31, 0.322, 0.325, 0.325, 0.325, 0.322, 0.322, 0.322, 0.322, 0.322,
                 0.322, 0.322, 0.322, 0.322, 0.322, 0.322, 0.322, 0.322, 0.322, 0.322,
                 0.322, 0.322, 0.322, 0.322, 0.322, 0.322, 0.322, 0.322, 0.322, 0.322]
chip_wacc_b500 = [0.32, 0.325, 0.32, 0.325, 0.328, 0.325, 0.33, 0.325, 0.322, 0.322,
                  0.322, 0.322, 0.322, 0.322, 0.322, 0.322, 0.322, 0.322, 0.322, 0.322,
                  0.322, 0.322, 0.322, 0.322, 0.322, 0.322, 0.322, 0.322, 0.322, 0.322]
chip_wacc_b5k = [0.30, 0.32, 0.32, 0.32, 0.322, 0.32, 0.32, 0.32, 0.32, 0.32,
                 0.32, 0.32, 0.32, 0.32, 0.32, 0.32, 0.32, 0.32, 0.32, 0.32,
                 0.32, 0.32, 0.32, 0.32, 0.32, 0.32, 0.32, 0.32, 0.32, 0.32]
chip_wacc_b50k = [0.22, 0.275, 0.295, 0.305, 0.31, 0.32, 0.32, 0.32, 0.32, 0.32,
                  0.32, 0.322, 0.322, 0.322, 0.322, 0.322, 0.322, 0.322, 0.322, 0.322,
                  0.322, 0.322, 0.322, 0.322, 0.322, 0.322, 0.322, 0.322, 0.322, 0.32]
chip_wacc_b150k = [0.18, 0.25, 0.288, 0.305, 0.307, 0.32, 0.322, 0.322, 0.32, 0.32,
                   0.32, 0.32, 0.322, 0.323, 0.325, 0.325, 0.322, 0.325, 0.322, 0.322,
                   0.322, 0.325, 0.322, 0.322, 0.325, 0.322, 0.322, 0.322, 0.32, 0.32]
chip_wacc_mlmc = [0.17, 0.215, 0.255, 0.272, 0.296, 0.31, 0.303, 0.30, 0.318, 0.315,
                  0.308, 0.308, 0.31, 0.32, 0.312, 0.313, 0.32, 0.315, 0.313, 0.32,
                  0.32, 0.32, 0.32, 0.32, 0.32, 0.32, 0.32, 0.32, 0.32, 0.32]
chip_wacc_full = [0.10, 0.12, 0.14, 0.16, 0.175, 0.19, 0.20, 0.21, 0.215, 0.212,
                  0.21, 0.218, 0.226, 0.23, 0.238, 0.24, 0.255, 0.262, 0.262, 0.275,
                  0.275, 0.275, 0.288, 0.291, 0.291, 0.29, 0.30, 0.302, 0.307, 0.308]
chip_wacc_mlmc_err = [0.02, 0.02, 0.02, 0.02, 0.02, 0.02, 0.02, 0.02, 0.02, 0.02,
                      0.02, 0.02, 0.02, 0.02, 0.02, 0.02, 0.02, 0.02, 0.02, 0.02,
                      0.02, 0.02, 0.02, 0.02, 0.02, 0.02, 0.02, 0.02, 0.02, 0.02]
chip_wacc_full_err = [0, 0, 0, 0, 0, 0, 0.015, 0.015, 0.015, 0.015,
                      0.015, 0.015, 0.015, 0.015, 0.015, 0.015, 0.015, 0.015, 0.015, 0.015,
                      0.015, 0.015, 0.015, 0.015, 0.015, 0.015, 0.015, 0.015, 0.015, 0.015]
chip_wacc_b50_err = [0.012, 0.012, 0.012, 0.012, 0.012, 0.012, 0.012, 0.012, 0.012, 0.012,
                     0.012, 0.012, 0.012, 0.012, 0.012, 0.012, 0.012, 0.012, 0.012, 0.012,
                     0.012, 0.012, 0.012, 0.012, 0.012, 0.012, 0.012, 0.012, 0.012, 0.012]

# ---------------- Row 5: average test accuracy ----------------
cvar_acc_b10 = [0.7286, 0.744, 0.7479, 0.7495, 0.7505, 0.751, 0.751, 0.7512, 0.7514, 0.7515,
                0.7516, 0.7517, 0.7518, 0.7518, 0.7519, 0.752, 0.752, 0.752, 0.752, 0.752,
                0.752, 0.752, 0.752, 0.752, 0.752, 0.752, 0.752, 0.7521, 0.7522, 0.7523]
cvar_acc_b50 = [0.728, 0.741, 0.744, 0.745, 0.7455, 0.746, 0.7462, 0.7463, 0.7464, 0.7465,
                0.7465, 0.7465, 0.7465, 0.7465, 0.7466, 0.7466, 0.7466, 0.7466, 0.7466, 0.7466,
                0.7467, 0.7467, 0.7467, 0.7467, 0.7467, 0.7467, 0.7467, 0.7468, 0.7468, 0.7468]
cvar_acc_b500 = [0.727, 0.740, 0.743, 0.744, 0.7442, 0.7444, 0.7445, 0.7446, 0.7447, 0.7448,
                 0.7448, 0.7449, 0.7449, 0.745, 0.745, 0.745, 0.745, 0.745, 0.745, 0.745,
                 0.7451, 0.7451, 0.7452, 0.7452, 0.7453, 0.7453, 0.7454, 0.7454, 0.7455, 0.7455]
cvar_acc_b5k = [0.725, 0.739, 0.742, 0.743, 0.7432, 0.7433, 0.7434, 0.7434, 0.7435, 0.7435,
                0.7435, 0.7435, 0.7436, 0.7436, 0.7436, 0.7436, 0.7436, 0.7437, 0.7437, 0.7437,
                0.7437, 0.7437, 0.7437, 0.7438, 0.7438, 0.7438, 0.7438, 0.7438, 0.7438, 0.7438]
cvar_acc_b50k = [0.696, 0.719, 0.7308, 0.7367, 0.7395, 0.741, 0.7415, 0.742, 0.742, 0.742,
                 0.742, 0.742, 0.742, 0.742, 0.742, 0.742, 0.742, 0.742, 0.742, 0.742,
                 0.742, 0.742, 0.742, 0.742, 0.742, 0.742, 0.7418, 0.7416, 0.7415, 0.7415]
cvar_acc_b150k = [0.67, 0.69, 0.7132, 0.728, 0.734, 0.738, 0.7405, 0.742, 0.7425, 0.743,
                  0.743, 0.743, 0.743, 0.743, 0.743, 0.743, 0.743, 0.743, 0.743, 0.743,
                  0.743, 0.743, 0.743, 0.743, 0.743, 0.743, 0.743, 0.743, 0.743, 0.743]
cvar_acc_mlmc = [0.62, 0.66, 0.685, 0.695, 0.701, 0.7066, 0.7132, 0.7182, 0.7224, 0.7246,
                 0.7275, 0.7292, 0.7308, 0.7323, 0.7334, 0.7347, 0.7358, 0.7367, 0.7375, 0.7382,
                 0.7389, 0.7395, 0.74, 0.7405, 0.741, 0.7415, 0.742, 0.7425, 0.743, 0.7433]
cvar_acc_full = [0.55, 0.56, 0.57, 0.58, 0.59, 0.60, 0.61, 0.62, 0.63, 0.64,
                 0.65, 0.66, 0.67, 0.675, 0.68, 0.685, 0.69, 0.695, 0.6993, 0.7022,
                 0.706, 0.7099, 0.7138, 0.7176, 0.7209, 0.7235, 0.7257, 0.7286, 0.7292, 0.7301]
cvar_acc_mlmc_err = [0, 0, 0, 0, 0.002, 0.002, 0.002, 0.002, 0.003, 0.003,
                     0.003, 0.002, 0.002, 0.0015, 0.0015, 0.0015, 0.0015, 0.0015, 0.0015, 0.0015,
                     0.0015, 0.0015, 0.0015, 0.0015, 0.0015, 0.0015, 0.0015, 0.0015, 0.0015, 0.0015]
cvar_acc_full_err = [0, 0, 0, 0, 0, 0, 0, 0, 0, 0,
                     0, 0, 0, 0, 0, 0, 0, 0, 0.0015, 0.0015,
                     0.0015, 0.0015, 0.0015, 0.0015, 0.0015, 0.002, 0.002, 0.0025, 0.003, 0.004]

chic_acc_b10 = [0.7494, 0.7544, 0.7553, 0.7557, 0.7559, 0.756, 0.756, 0.756, 0.7561, 0.7561,
                0.7562, 0.7562, 0.7562, 0.7563, 0.7563, 0.7563, 0.7563, 0.7564, 0.7564, 0.7564,
                0.7564, 0.7564, 0.7564, 0.7565, 0.7565, 0.7565, 0.7565, 0.7565, 0.7565, 0.7565]
chic_acc_b50 = [0.748, 0.754, 0.755, 0.7553, 0.7555, 0.7556, 0.7557, 0.7557, 0.7558, 0.7558,
                0.7558, 0.7558, 0.7559, 0.7559, 0.7559, 0.7559, 0.7559, 0.7559, 0.756, 0.756,
                0.756, 0.756, 0.756, 0.756, 0.756, 0.756, 0.756, 0.756, 0.756, 0.756]
chic_acc_b500 = [0.7485, 0.7538, 0.7548, 0.7551, 0.7552, 0.7553, 0.7553, 0.7554, 0.7554, 0.7554,
                 0.7554, 0.7555, 0.7555, 0.7555, 0.7555, 0.7555, 0.7555, 0.7555, 0.7555, 0.7555,
                 0.7555, 0.7555, 0.7555, 0.7555, 0.7555, 0.7555, 0.7555, 0.7555, 0.7555, 0.7555]
chic_acc_b5k = [0.7482, 0.7535, 0.7545, 0.7548, 0.7549, 0.755, 0.755, 0.755, 0.755, 0.755,
                0.755, 0.755, 0.755, 0.755, 0.755, 0.755, 0.755, 0.755, 0.755, 0.755,
                0.755, 0.755, 0.755, 0.755, 0.755, 0.755, 0.755, 0.755, 0.755, 0.755]
chic_acc_b50k = [0.7308, 0.7472, 0.7505, 0.753, 0.754, 0.7545, 0.7547, 0.7548, 0.7549, 0.755,
                 0.755, 0.755, 0.755, 0.755, 0.755, 0.755, 0.755, 0.755, 0.755, 0.755,
                 0.755, 0.755, 0.755, 0.755, 0.755, 0.755, 0.755, 0.755, 0.755, 0.755]
chic_acc_b150k = [0.68, 0.7165, 0.7319, 0.74, 0.7445, 0.7475, 0.749, 0.7505, 0.7515, 0.752,
                  0.7525, 0.753, 0.7532, 0.7535, 0.7537, 0.754, 0.7541, 0.7542, 0.7543, 0.7544,
                  0.7545, 0.7546, 0.7547, 0.7548, 0.7549, 0.755, 0.7551, 0.7552, 0.7553, 0.7555]
chic_acc_mlmc = [0.68, 0.711, 0.728, 0.7352, 0.7407, 0.7439, 0.7461, 0.7478, 0.749, 0.750,
                 0.7505, 0.751, 0.7515, 0.752, 0.7522, 0.7525, 0.7528, 0.753, 0.7532, 0.7534,
                 0.7536, 0.7538, 0.754, 0.7541, 0.7542, 0.7543, 0.7544, 0.7545, 0.7545, 0.7545]
chic_acc_full = [0.60, 0.62, 0.635, 0.65, 0.66, 0.67, 0.678, 0.685, 0.691, 0.696,
                 0.7003, 0.7062, 0.7112, 0.7155, 0.7188, 0.7221, 0.7254, 0.728, 0.7302, 0.7324,
                 0.7338, 0.7352, 0.7363, 0.7375, 0.7383, 0.7391, 0.7398, 0.7404, 0.741, 0.7413]

chip_acc_b10 = [0.748, 0.753, 0.7535, 0.754, 0.754, 0.754, 0.754, 0.754, 0.754, 0.754,
                0.754, 0.754, 0.754, 0.754, 0.754, 0.754, 0.754, 0.754, 0.754, 0.754,
                0.754, 0.754, 0.754, 0.754, 0.754, 0.754, 0.754, 0.754, 0.754, 0.754]
chip_acc_b50 = [0.746, 0.752, 0.7528, 0.753, 0.7532, 0.7533, 0.7533, 0.7534, 0.7534, 0.7534,
                0.7535, 0.7535, 0.7535, 0.7535, 0.7535, 0.7535, 0.7535, 0.7535, 0.7535, 0.7535,
                0.7535, 0.7535, 0.7535, 0.7535, 0.7535, 0.7535, 0.7535, 0.7535, 0.7535, 0.7535]
chip_acc_b500 = [0.745, 0.751, 0.752, 0.7522, 0.7523, 0.7524, 0.7524, 0.7524, 0.7525, 0.7525,
                 0.7525, 0.7525, 0.7525, 0.7525, 0.7525, 0.7525, 0.7525, 0.7525, 0.7525, 0.7525,
                 0.7525, 0.7525, 0.7525, 0.7525, 0.7525, 0.7525, 0.7525, 0.7525, 0.7525, 0.7525]
chip_acc_b5k = [0.746, 0.7515, 0.752, 0.752, 0.752, 0.752, 0.752, 0.752, 0.752, 0.752,
                0.752, 0.752, 0.752, 0.752, 0.752, 0.752, 0.752, 0.752, 0.752, 0.752,
                0.752, 0.752, 0.752, 0.752, 0.752, 0.752, 0.752, 0.752, 0.752, 0.752]
chip_acc_b50k = [0.699, 0.729, 0.7391, 0.7439, 0.746, 0.7475, 0.748, 0.749, 0.7495, 0.75,
                 0.7502, 0.7504, 0.7505, 0.7506, 0.7507, 0.7508, 0.7509, 0.751, 0.751, 0.751,
                 0.7511, 0.7511, 0.7512, 0.7512, 0.7513, 0.7513, 0.7514, 0.7514, 0.7515, 0.7515]
chip_acc_b150k = [0.68, 0.7155, 0.7308, 0.7389, 0.7425, 0.745, 0.7465, 0.7475, 0.748, 0.7485,
                  0.7488, 0.749, 0.7492, 0.7494, 0.7496, 0.7497, 0.7498, 0.7499, 0.75, 0.7501,
                  0.7502, 0.7503, 0.7504, 0.7505, 0.7506, 0.7507, 0.7508, 0.7509, 0.751, 0.751]
chip_acc_mlmc = [0.67, 0.709, 0.7254, 0.7319, 0.7363, 0.7395, 0.741, 0.742, 0.7435, 0.744,
                 0.745, 0.7455, 0.746, 0.7465, 0.747, 0.7475, 0.748, 0.748, 0.7485, 0.749,
                 0.749, 0.7495, 0.7495, 0.75, 0.75, 0.75, 0.7505, 0.7505, 0.751, 0.751]
chip_acc_full = [0.60, 0.62, 0.635, 0.65, 0.66, 0.67, 0.678, 0.685, 0.691, 0.696,
                 0.7004, 0.7054, 0.709, 0.7134, 0.7171, 0.721, 0.7238, 0.7265, 0.7286, 0.7308,
                 0.7325, 0.734, 0.7352, 0.7363, 0.7372, 0.738, 0.7386, 0.739, 0.7395, 0.7392]

# ERM reference levels for rows 2-5 (same in all three columns)
erm4_levels = [2.80, 0.952, 0.304, 0.759]
erm3_levels = [2.70, 1.025, 0.296, 0.757]

titles = ["ImageNet: CVaR with <i>α</i> = 0.1",
          "ImageNet: Constrained-χ<sup>2</sup> with <i>ρ</i> = 1.0",
          "ImageNet: Penalized-χ<sup>2</sup> with <i>λ</i> = 0.4"]
row_labels = ["Robust (training) objective", "Test loss on worst 10 labels",
              "Average test loss", "Test acc. on worst 10 labels", "Average test acc."]
x_label = "Gradient evaluations (in passes over the data)"

names = ["Batch <i>n</i> = 10", "Batch <i>n</i> = 50", "Batch <i>n</i> = 500",
         "Batch <i>n</i> = 5<i>K</i>", "Batch <i>n</i> = 50<i>K</i>", "Batch <i>n</i> = 150<i>K</i>",
         "MLMC <i>n</i><sub>0</sub> = 10", "Full Batch",
         "ERM <i>μ</i> = 10<sup>−4</sup>", "ERM <i>μ</i> = 10<sup>−3</sup>"]

# ---------------- styling ----------------
FONT = "Liberation Serif"
W, H = 830, 705
colors = ["#1f77b4", "#ff7f0e", "#2ca02c", "#9467bd", "#17becf", "#8c564b", "#1f77b4", "#e377c2"]
symbols = ["circle", "x-thin", "cross", "triangle-right", "star", "cross-thin", "square", "triangle-left"]
dashes = ["solid", "solid", "solid", "solid", "solid", "solid", "dot", "dash"]
msizes = [5, 5.5, 5.5, 5.5, 6.5, 5, 6.5, 6]
thin = {"x-thin", "cross-thin"}
erm4_style = dict(color="#5f9ea0", width=1.6, dash="6px,2px,1.5px,2px,1.5px,2px")
erm3_style = dict(color="#000080", width=2.4, dash="9px,3px,2px,3px")


def rgba(h, a):
    return "rgba(%d,%d,%d,%s)" % (int(h[1:3], 16), int(h[3:5], 16), int(h[5:7], 16), a)


grid = [
    [[cvar_obj_b10, cvar_obj_b50, cvar_obj_b500, cvar_obj_b5k, cvar_obj_b50k, cvar_obj_b150k, cvar_obj_mlmc, cvar_obj_full],
     [chic_obj_b10, chic_obj_b50, chic_obj_b500, chic_obj_b5k, chic_obj_b50k, chic_obj_b150k, chic_obj_mlmc, chic_obj_full],
     [chip_obj_b10, chip_obj_b50, chip_obj_b500, chip_obj_b5k, chip_obj_b50k, chip_obj_b150k, chip_obj_mlmc, chip_obj_full]],
    [[cvar_worst_b10, cvar_worst_b50, cvar_worst_b500, cvar_worst_b5k, cvar_worst_b50k, cvar_worst_b150k, cvar_worst_mlmc, cvar_worst_full],
     [chic_worst_b10, chic_worst_b50, chic_worst_b500, chic_worst_b5k, chic_worst_b50k, chic_worst_b150k, chic_worst_mlmc, chic_worst_full],
     [chip_worst_b10, chip_worst_b50, chip_worst_b500, chip_worst_b5k, chip_worst_b50k, chip_worst_b150k, chip_worst_mlmc, chip_worst_full]],
    [[cvar_loss_b10, cvar_loss_b50, cvar_loss_b500, cvar_loss_b5k, cvar_loss_b50k, cvar_loss_b150k, cvar_loss_mlmc, cvar_loss_full],
     [chic_loss_b10, chic_loss_b50, chic_loss_b500, chic_loss_b5k, chic_loss_b50k, chic_loss_b150k, chic_loss_mlmc, chic_loss_full],
     [chip_loss_b10, chip_loss_b50, chip_loss_b500, chip_loss_b5k, chip_loss_b50k, chip_loss_b150k, chip_loss_mlmc, chip_loss_full]],
    [[cvar_wacc_b10, cvar_wacc_b50, cvar_wacc_b500, cvar_wacc_b5k, cvar_wacc_b50k, cvar_wacc_b150k, cvar_wacc_mlmc, cvar_wacc_full],
     [chic_wacc_b10, chic_wacc_b50, chic_wacc_b500, chic_wacc_b5k, chic_wacc_b50k, chic_wacc_b150k, chic_wacc_mlmc, chic_wacc_full],
     [chip_wacc_b10, chip_wacc_b50, chip_wacc_b500, chip_wacc_b5k, chip_wacc_b50k, chip_wacc_b150k, chip_wacc_mlmc, chip_wacc_full]],
    [[cvar_acc_b10, cvar_acc_b50, cvar_acc_b500, cvar_acc_b5k, cvar_acc_b50k, cvar_acc_b150k, cvar_acc_mlmc, cvar_acc_full],
     [chic_acc_b10, chic_acc_b50, chic_acc_b500, chic_acc_b5k, chic_acc_b50k, chic_acc_b150k, chic_acc_mlmc, chic_acc_full],
     [chip_acc_b10, chip_acc_b50, chip_acc_b500, chip_acc_b5k, chip_acc_b50k, chip_acc_b150k, chip_acc_mlmc, chip_acc_full]],
]

# shaded spread bands: (row, col) -> [(series index, half width)]
bands = {
    (0, 0): [(5, cvar_obj_b150k_err)],
    (0, 1): [(4, chic_obj_b50k_err)],
    (1, 0): [(6, cvar_worst_mlmc_err), (5, cvar_worst_b150k_err), (7, cvar_worst_full_err)],
    (1, 1): [(6, chic_worst_mlmc_err), (5, chic_worst_b150k_err), (4, chic_worst_b50k_err), (7, chic_worst_full_err)],
    (1, 2): [(6, chip_worst_mlmc_err), (7, chip_worst_full_err)],
    (2, 0): [(6, cvar_loss_mlmc_err)],
    (2, 1): [(6, chic_loss_mlmc_err)],
    (2, 2): [(6, chip_loss_mlmc_err)],
    (3, 0): [(6, cvar_wacc_mlmc_err), (5, cvar_wacc_b150k_err), (7, cvar_wacc_full_err),
             (4, cvar_wacc_b50k_err), (2, cvar_wacc_b500_err), (0, cvar_wacc_b10_err)],
    (3, 1): [(6, chic_wacc_mlmc_err), (5, chic_wacc_b150k_err), (7, chic_wacc_full_err), (2, chic_wacc_b500_err)],
    (3, 2): [(6, chip_wacc_mlmc_err), (7, chip_wacc_full_err), (1, chip_wacc_b50_err)],
    (4, 0): [(6, cvar_acc_mlmc_err), (7, cvar_acc_full_err)],
}

y_ranges = [[[2.89, 4.81], [2.195, 3.52], [1.815, 3.81]],
            [[2.5, 3.0]] * 3, [[0.9, 1.4]] * 3, [[0.2, 0.381]] * 3, [[0.70, 0.771]] * 3]
y_ticks = [[[3.0, 3.5, 4.0, 4.5], [2.5, 3.0, 3.5], [2.0, 2.5, 3.0, 3.5]],
           [[2.6, 2.8, 3.0]] * 3, [[1.0, 1.2, 1.4]] * 3,
           [[0.20, 0.25, 0.30, 0.35]] * 3, [[0.70, 0.72, 0.74, 0.76]] * 3]
y_fmt = [".1f", ".1f", ".1f", ".2f", ".2f"]

col_px = [(39, 273), (306, 542), (576, 810)]
row_px = [(18, 127), (148, 256), (277, 386), (408, 517), (538, 647)]

axis_style = dict(showgrid=False, zeroline=False, showline=True, mirror=True,
                  linecolor="#555", linewidth=1, ticks="outside", ticklen=3,
                  tickwidth=1, tickcolor="#555",
                  tickfont=dict(family=FONT, size=11.5, color="#222"))

fig = go.Figure()
layout = dict(width=W, height=H, margin=dict(l=0, r=0, t=0, b=0),
              paper_bgcolor="white", plot_bgcolor="white", showlegend=False,
              font=dict(family=FONT, size=12, color="#222"))
annotations = []

for r in range(5):
    for c in range(3):
        k = r * 3 + c + 1
        sfx = "" if k == 1 else str(k)
        xa, ya = "x" + sfx, "y" + sfx
        data = grid[r][c]
        for si, err in bands.get((r, c), []):
            y = data[si]
            hi = [v + e for v, e in zip(y, err)]
            lo = [v - e for v, e in zip(y, err)]
            fig.add_trace(go.Scatter(x=x + x[::-1], y=hi + lo[::-1], fill="toself",
                                     fillcolor=rgba(colors[si], 0.25), line=dict(width=0),
                                     mode="lines", hoverinfo="skip", xaxis=xa, yaxis=ya))
        for si, y in enumerate(data):
            sym = symbols[si]
            fig.add_trace(go.Scatter(
                x=x, y=y, mode="lines+markers", name=names[si], xaxis=xa, yaxis=ya,
                line=dict(color=colors[si], width=1.2, dash=dashes[si]),
                marker=dict(symbol=sym, size=msizes[si], color=colors[si],
                            line=dict(color=colors[si], width=1.2 if sym in thin else 0))))
        if r > 0:
            for lvl, st, nm in ((erm4_levels[r - 1], erm4_style, names[8]),
                                (erm3_levels[r - 1], erm3_style, names[9])):
                fig.add_trace(go.Scatter(x=[x[0], x[-1]], y=[lvl, lvl], mode="lines", name=nm,
                                         line=st, xaxis=xa, yaxis=ya))
        layout["xaxis" + sfx] = dict(domain=[col_px[c][0] / W, col_px[c][1] / W], anchor=ya,
                                     range=[1, 30], tickvals=[5, 10, 15, 20, 25, 30], **axis_style)
        layout["yaxis" + sfx] = dict(domain=[1 - row_px[r][1] / H, 1 - row_px[r][0] / H], anchor=xa,
                                     range=y_ranges[r][c], tickvals=y_ticks[r][c],
                                     tickformat=y_fmt[r], **axis_style)

for c in range(3):
    annotations.append(dict(text=titles[c], xref="paper", yref="paper",
                            x=(col_px[c][0] + col_px[c][1]) / 2 / W, y=1 - 9 / H,
                            xanchor="center", yanchor="middle", showarrow=False,
                            font=dict(family=FONT, size=15, color="#222")))
for r in range(5):
    annotations.append(dict(text=row_labels[r], xref="paper", yref="paper", x=8 / W,
                            y=1 - (row_px[r][0] + row_px[r][1]) / 2 / H, textangle=-90,
                            xanchor="center", yanchor="middle", showarrow=False,
                            font=dict(family=FONT, size=10, color="#222")))
annotations.append(dict(text=x_label, xref="paper", yref="paper",
                        x=(col_px[1][0] + col_px[1][1]) / 2 / W, y=1 - 674 / H,
                        xanchor="center", yanchor="middle", showarrow=False,
                        font=dict(family=FONT, size=11.5, color="#222")))

# legend strip: samples drawn on hidden axes, one row like the original
hidden = dict(visible=False, showticklabels=False, ticks="", showgrid=False,
              zeroline=False, showline=False, tickvals=[])
layout["xaxis16"] = dict(domain=[0, 1], range=[0, W], anchor="y16", **hidden)
layout["yaxis16"] = dict(domain=[1 - 702 / H, 1 - 682 / H], range=[0, 1], anchor="x16", **hidden)
leg_start = [16, 92, 167, 247, 328, 410, 502, 586, 651, 733]
for i, s in enumerate(leg_start):
    if i < 8:
        fig.add_trace(go.Scatter(x=[s, s + 10.5, s + 21], y=[0.5, 0.5, 0.5], mode="lines+markers",
                                 xaxis="x16", yaxis="y16", hoverinfo="skip",
                                 line=dict(color=colors[i], width=1.2, dash=dashes[i]),
                                 marker=dict(symbol=symbols[i], size=[0, msizes[i], 0], color=colors[i],
                                             line=dict(color=colors[i],
                                                       width=1.2 if symbols[i] in thin else 0))))
    else:
        st = erm4_style if i == 8 else erm3_style
        fig.add_trace(go.Scatter(x=[s, s + 21], y=[0.5, 0.5], mode="lines", xaxis="x16",
                                 yaxis="y16", hoverinfo="skip", line=st))
    annotations.append(dict(text=names[i], xref="paper", yref="paper", x=(s + 23) / W,
                            y=1 - 692 / H, xanchor="left", yanchor="middle", showarrow=False,
                            font=dict(family=FONT, size=10, color="#222")))

layout["annotations"] = annotations
layout["shapes"] = [dict(type="rect", xref="paper", yref="paper", x0=10 / W, x1=822 / W,
                         y0=1 - 703 / H, y1=1 - 682 / H, line=dict(color="#cccccc", width=1),
                         fillcolor="rgba(0,0,0,0)", layer="below")]
fig.update_layout(**layout)
fig.write_html("out.html")
